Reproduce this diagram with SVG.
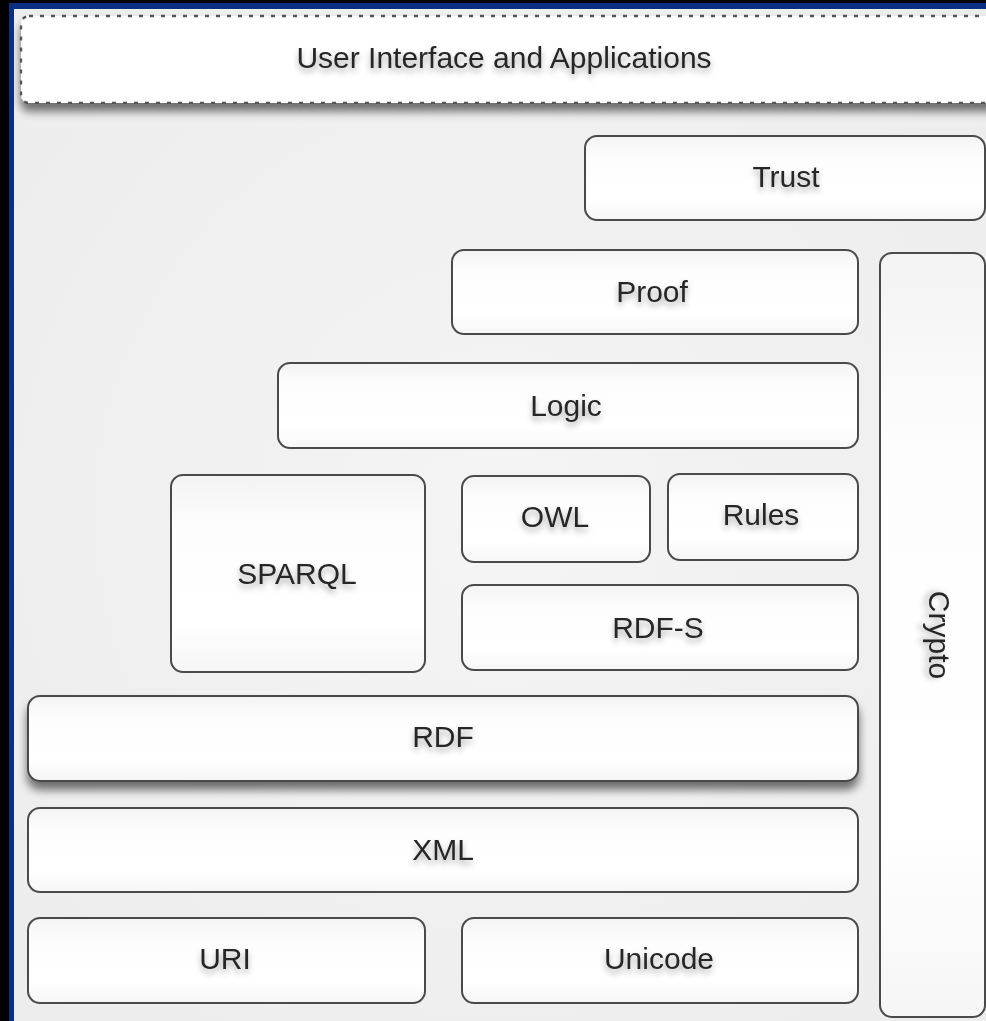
<svg xmlns="http://www.w3.org/2000/svg" width="986" height="1021" viewBox="0 0 986 1021">
  <style>
    .box { fill: url(#boxfill); stroke: #4a4a4a; stroke-width: 2; }
    .lbl { font-family: "Liberation Sans", Arial, sans-serif; font-size: 30px; fill: #262626; text-anchor: middle; filter: url(#tshadow); }
  </style>
  <defs>
    <linearGradient id="boxfill" x1="0" y1="0" x2="0" y2="1">
      <stop offset="0" stop-color="#f3f3f3"/>
      <stop offset="0.25" stop-color="#fdfdfd"/>
      <stop offset="0.75" stop-color="#ffffff"/>
      <stop offset="1" stop-color="#f6f6f6"/>
    </linearGradient>
    <radialGradient id="panelfill" cx="0.5" cy="0.5" r="0.75">
      <stop offset="0" stop-color="#f4f4f4"/>
      <stop offset="1" stop-color="#ececec"/>
    </radialGradient>
    <filter id="dshadow" x="-5%" y="-20%" width="110%" height="160%">
      <feGaussianBlur in="SourceAlpha" stdDeviation="5"/>
      <feOffset dx="0" dy="8" result="b"/>
      <feComponentTransfer><feFuncA type="linear" slope="0.55"/></feComponentTransfer>
      <feMerge><feMergeNode/><feMergeNode in="SourceGraphic"/></feMerge>
    </filter>
    <filter id="tshadow" x="-20%" y="-40%" width="140%" height="200%">
      <feGaussianBlur in="SourceAlpha" stdDeviation="3"/>
      <feOffset dx="0" dy="4" result="b"/>
      <feComponentTransfer><feFuncA type="linear" slope="0.35"/></feComponentTransfer>
      <feMerge><feMergeNode/><feMergeNode in="SourceGraphic"/></feMerge>
    </filter>
  </defs>

  <rect x="0" y="0" width="986" height="1021" fill="#000000"/>
  <rect x="9" y="3" width="977" height="1018" fill="#0b2f82"/>
  <rect x="14" y="9" width="972" height="1012" fill="url(#panelfill)"/>

  <g id="ui">
    <rect x="21" y="16" width="985" height="87" rx="8" fill="#ffffff" stroke="#555" stroke-width="2.4" stroke-dasharray="4 7" filter="url(#dshadow)"/>
    <text class="lbl" x="504" y="68">User Interface and Applications</text>
  </g>
  <g id="trust">
    <rect class="box" x="585" y="136" width="400" height="84" rx="12"/>
    <text class="lbl" x="786" y="187">Trust</text>
  </g>
  <g id="proof">
    <rect class="box" x="452" y="250" width="406" height="84" rx="12"/>
    <text class="lbl" x="652" y="302">Proof</text>
  </g>
  <g id="crypto">
    <rect class="box" x="880" y="253" width="105" height="764" rx="12"/>
    <text class="lbl" transform="translate(929,635) rotate(90)" x="0" y="0">Crypto</text>
  </g>
  <g id="logic">
    <rect class="box" x="278" y="363" width="580" height="85" rx="12"/>
    <text class="lbl" x="566" y="416">Logic</text>
  </g>
  <g id="sparql">
    <rect class="box" x="171" y="475" width="254" height="197" rx="12"/>
    <text class="lbl" x="297" y="584">SPARQL</text>
  </g>
  <g id="owl">
    <rect class="box" x="462" y="476" width="188" height="86" rx="12"/>
    <text class="lbl" x="555" y="527">OWL</text>
  </g>
  <g id="rules">
    <rect class="box" x="668" y="474" width="190" height="86" rx="12"/>
    <text class="lbl" x="761" y="525">Rules</text>
  </g>
  <g id="rdfs">
    <rect class="box" x="462" y="585" width="396" height="85" rx="12"/>
    <text class="lbl" x="658" y="638">RDF-S</text>
  </g>
  <g id="rdf">
    <rect class="box" x="28" y="696" width="830" height="85" rx="12" filter="url(#dshadow)"/>
    <text class="lbl" x="443" y="747">RDF</text>
  </g>
  <g id="xml">
    <rect class="box" x="28" y="808" width="830" height="84" rx="12"/>
    <text class="lbl" x="443" y="860">XML</text>
  </g>
  <g id="uri">
    <rect class="box" x="28" y="918" width="397" height="85" rx="12"/>
    <text class="lbl" x="225" y="969">URI</text>
  </g>
  <g id="unicode">
    <rect class="box" x="462" y="918" width="396" height="85" rx="12"/>
    <text class="lbl" x="659" y="969">Unicode</text>
  </g>
  <g id="connectors"></g>
</svg>
